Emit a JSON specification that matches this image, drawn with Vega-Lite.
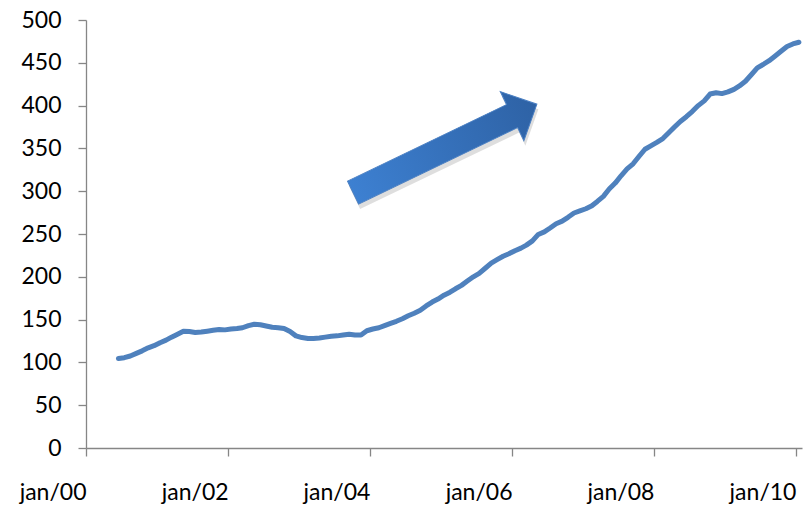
{
  "$schema": "https://vega.github.io/schema/vega-lite/v6.json",
  "width": 716,
  "height": 428,
  "autosize": {"type": "none"},
  "padding": {"left": 86, "top": 20, "right": 9, "bottom": 57},
  "background": "white",
  "config": {
    "view": {"stroke": null},
    "font": "Lato",
    "axis": {"labelFont": "Lato", "labelFontSize": 23, "labelColor": "#000000", "domainColor": "#868686", "tickColor": "#868686", "domainWidth": 1.3, "tickWidth": 1.3, "grid": false, "title": null}
  },
  "datasets": {
    "series": [
      {"date": "2000-06-16", "value": 104.5},
      {"date": "2000-07-16", "value": 105.5},
      {"date": "2000-08-16", "value": 107.5},
      {"date": "2000-09-16", "value": 110.5},
      {"date": "2000-10-16", "value": 113.5},
      {"date": "2000-11-16", "value": 117},
      {"date": "2000-12-16", "value": 119.5},
      {"date": "2001-01-16", "value": 123},
      {"date": "2001-02-16", "value": 126},
      {"date": "2001-03-16", "value": 129.5},
      {"date": "2001-04-16", "value": 133},
      {"date": "2001-05-16", "value": 136.5},
      {"date": "2001-06-16", "value": 136},
      {"date": "2001-07-16", "value": 135},
      {"date": "2001-08-16", "value": 135.5},
      {"date": "2001-09-16", "value": 136.5},
      {"date": "2001-10-16", "value": 137.5},
      {"date": "2001-11-16", "value": 138.5},
      {"date": "2001-12-16", "value": 138},
      {"date": "2002-01-16", "value": 139},
      {"date": "2002-02-16", "value": 139.5},
      {"date": "2002-03-16", "value": 140.5},
      {"date": "2002-04-16", "value": 143},
      {"date": "2002-05-16", "value": 144.5},
      {"date": "2002-06-16", "value": 144},
      {"date": "2002-07-16", "value": 142.5},
      {"date": "2002-08-16", "value": 141},
      {"date": "2002-09-16", "value": 140.5},
      {"date": "2002-10-16", "value": 139.5},
      {"date": "2002-11-16", "value": 136},
      {"date": "2002-12-16", "value": 131},
      {"date": "2003-01-16", "value": 129},
      {"date": "2003-02-16", "value": 128},
      {"date": "2003-03-16", "value": 128},
      {"date": "2003-04-16", "value": 128.5},
      {"date": "2003-05-16", "value": 129.5},
      {"date": "2003-06-16", "value": 130.5},
      {"date": "2003-07-16", "value": 131},
      {"date": "2003-08-16", "value": 132},
      {"date": "2003-09-16", "value": 133},
      {"date": "2003-10-16", "value": 132},
      {"date": "2003-11-16", "value": 132},
      {"date": "2003-12-16", "value": 137},
      {"date": "2004-01-16", "value": 139},
      {"date": "2004-02-16", "value": 140.5},
      {"date": "2004-03-16", "value": 143},
      {"date": "2004-04-16", "value": 145.5},
      {"date": "2004-05-16", "value": 148},
      {"date": "2004-06-16", "value": 151},
      {"date": "2004-07-16", "value": 154.5},
      {"date": "2004-08-16", "value": 157.5},
      {"date": "2004-09-16", "value": 161},
      {"date": "2004-10-16", "value": 166},
      {"date": "2004-11-16", "value": 170.5},
      {"date": "2004-12-16", "value": 174},
      {"date": "2005-01-16", "value": 178.5},
      {"date": "2005-02-16", "value": 182},
      {"date": "2005-03-16", "value": 186},
      {"date": "2005-04-16", "value": 190},
      {"date": "2005-05-16", "value": 195},
      {"date": "2005-06-16", "value": 200},
      {"date": "2005-07-16", "value": 204},
      {"date": "2005-08-16", "value": 210},
      {"date": "2005-09-16", "value": 216},
      {"date": "2005-10-16", "value": 220},
      {"date": "2005-11-16", "value": 224},
      {"date": "2005-12-16", "value": 227},
      {"date": "2006-01-16", "value": 230.5},
      {"date": "2006-02-16", "value": 233.5},
      {"date": "2006-03-16", "value": 237},
      {"date": "2006-04-16", "value": 242},
      {"date": "2006-05-16", "value": 249.5},
      {"date": "2006-06-16", "value": 252.5},
      {"date": "2006-07-16", "value": 257},
      {"date": "2006-08-16", "value": 262},
      {"date": "2006-09-16", "value": 265},
      {"date": "2006-10-16", "value": 269.5},
      {"date": "2006-11-16", "value": 274.5},
      {"date": "2006-12-16", "value": 277},
      {"date": "2007-01-16", "value": 279.5},
      {"date": "2007-02-16", "value": 283},
      {"date": "2007-03-16", "value": 288},
      {"date": "2007-04-16", "value": 294},
      {"date": "2007-05-16", "value": 302.5},
      {"date": "2007-06-16", "value": 309.5},
      {"date": "2007-07-16", "value": 318},
      {"date": "2007-08-16", "value": 326},
      {"date": "2007-09-16", "value": 332},
      {"date": "2007-10-16", "value": 340.5},
      {"date": "2007-11-16", "value": 349},
      {"date": "2007-12-16", "value": 353},
      {"date": "2008-01-16", "value": 357},
      {"date": "2008-02-16", "value": 361.5},
      {"date": "2008-03-16", "value": 368},
      {"date": "2008-04-16", "value": 375},
      {"date": "2008-05-16", "value": 381.5},
      {"date": "2008-06-16", "value": 387},
      {"date": "2008-07-16", "value": 393},
      {"date": "2008-08-16", "value": 400},
      {"date": "2008-09-16", "value": 405.5},
      {"date": "2008-10-16", "value": 413.5},
      {"date": "2008-11-16", "value": 415},
      {"date": "2008-12-16", "value": 414},
      {"date": "2009-01-16", "value": 416},
      {"date": "2009-02-16", "value": 419},
      {"date": "2009-03-16", "value": 423},
      {"date": "2009-04-16", "value": 428.5},
      {"date": "2009-05-16", "value": 436},
      {"date": "2009-06-16", "value": 444},
      {"date": "2009-07-16", "value": 448},
      {"date": "2009-08-16", "value": 452.5},
      {"date": "2009-09-16", "value": 458},
      {"date": "2009-10-16", "value": 463.5},
      {"date": "2009-11-16", "value": 469},
      {"date": "2009-12-16", "value": 472},
      {"date": "2010-01-16", "value": 474}
    ],
    "arrow": [
      {"date": "2005-01-21", "value": 350}
    ]
  },
  "encoding": {
    "x": {
      "field": "date",
      "type": "temporal",
      "scale": {
        "type": "utc",
        "domain": [
          {"year": 2000, "month": 1, "date": 1, "utc": true},
          {"year": 2010, "month": 2, "date": 1, "utc": true}
        ]
      },
      "axis": {
        "values": [
          {"year": 2000, "month": 1, "date": 1, "utc": true},
          {"year": 2002, "month": 1, "date": 1, "utc": true},
          {"year": 2004, "month": 1, "date": 1, "utc": true},
          {"year": 2006, "month": 1, "date": 1, "utc": true},
          {"year": 2008, "month": 1, "date": 1, "utc": true},
          {"year": 2010, "month": 1, "date": 1, "utc": true}
        ],
        "labelExpr": "lower(utcFormat(datum.value, '%b/%y'))",
        "tickSize": 8,
        "labelPadding": 43,
        "labelAlign": "right",
        "labelDx": 2,
        "labelBaseline": "alphabetic",
        "labelOverlap": false,
        "labelBound": false,
        "labelFlush": false
      }
    },
    "y": {
      "field": "value",
      "type": "quantitative",
      "scale": {"domain": [0, 500], "nice": false, "zero": true},
      "axis": {
        "values": [0, 50, 100, 150, 200, 250, 300, 350, 400, 450, 500],
        "tickSize": 8,
        "labelPadding": 17,
        "labelOverlap": false,
        "labelBaseline": "middle"
      }
    }
  },
  "layer": [
    {
      "data": {"name": "series"},
      "mark": {"type": "line", "color": "#4F81BD", "strokeWidth": 5, "strokeCap": "round", "strokeJoin": "round", "clip": false}
    },
    {
      "data": {"name": "arrow"},
      "mark": {
        "type": "point",
        "shape": "M-1,-0.125 L0.73,-0.125 L0.73,-0.267 L1,0 L0.73,0.267 L0.73,0.125 L-1,0.125 Z",
        "size": 41616,
        "angle": 334.3,
        "filled": true,
        "fill": "#000000",
        "fillOpacity": 0.13,
        "strokeOpacity": 0,
        "xOffset": 1.5,
        "yOffset": 5
      }
    },
    {
      "data": {"name": "arrow"},
      "mark": {
        "type": "point",
        "shape": "M-1,-0.125 L0.73,-0.125 L0.73,-0.267 L1,0 L0.73,0.267 L0.73,0.125 L-1,0.125 Z",
        "size": 41616,
        "angle": 334.3,
        "filled": true,
        "fill": {"gradient": "linear", "x1": 0, "y1": 0, "x2": 1, "y2": 0, "stops": [{"offset": 0, "color": "#3D80D1"}, {"offset": 1, "color": "#2E62A5"}]},
        "fillOpacity": 1,
        "stroke": "#4A7FC2",
        "strokeWidth": 1,
        "strokeOpacity": 1
      }
    }
  ]
}
